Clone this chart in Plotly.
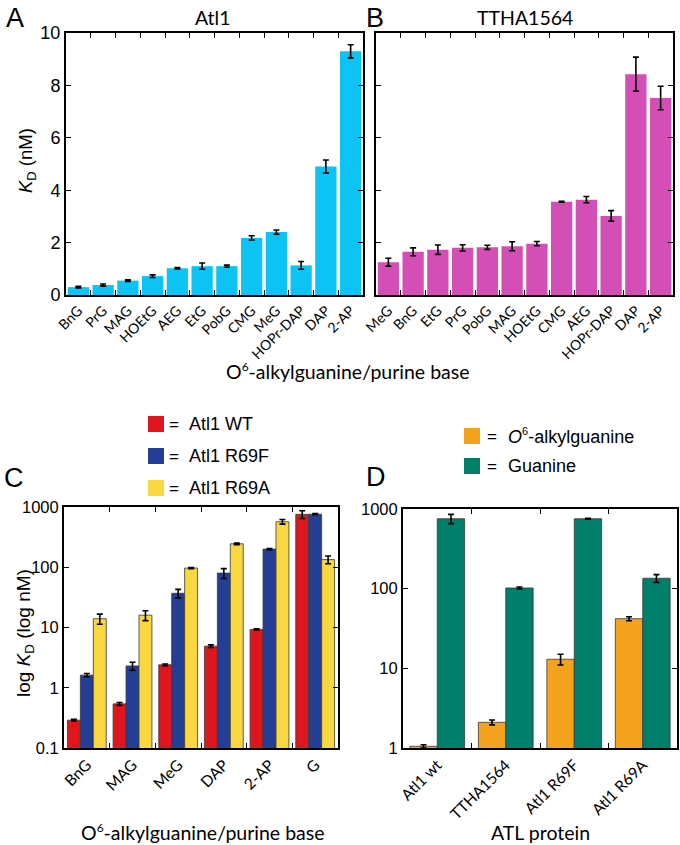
import plotly.graph_objects as go

W, H = 680, 845

# ---------------- data ----------------
a_cats = ["BnG", "PrG", "MAG", "HOEtG", "AEG", "EtG", "PobG", "CMG", "MeG", "HOPr-DAP", "DAP", "2-AP"]
a_vals = [0.30, 0.38, 0.55, 0.72, 1.02, 1.10, 1.10, 2.18, 2.40, 1.13, 4.90, 9.30]
a_errs = [0.03, 0.04, 0.03, 0.05, 0.03, 0.12, 0.04, 0.08, 0.08, 0.15, 0.25, 0.25]

b_cats = ["MeG", "BnG", "EtG", "PrG", "PobG", "MAG", "HOEtG", "CMG", "AEG", "HOPr-DAP", "DAP", "2-AP"]
b_vals = [1.25, 1.65, 1.73, 1.80, 1.82, 1.86, 1.96, 3.56, 3.64, 3.02, 8.43, 7.52]
b_errs = [0.15, 0.15, 0.18, 0.12, 0.08, 0.17, 0.08, 0.02, 0.12, 0.20, 0.65, 0.45]

c_cats = ["BnG", "MAG", "MeG", "DAP", "2-AP", "G"]
c_series = ["Atl1 WT", "Atl1 R69F", "Atl1 R69A"]
c_wt = [0.29, 0.54, 2.4, 4.9, 9.3, 755]
c_wt_err = [0.01, 0.03, 0.08, 0.25, 0.2, 110]
c_r69f = [1.62, 2.3, 37, 80, 200, 760]
c_r69f_err = [0.1, 0.35, 6, 15, 4, 15]
c_r69a = [14, 16, 97, 245, 570, 134]
c_r69a_err = [2.7, 3, 2, 8, 50, 20]

d_cats = ["Atl1 wt", "TTHA1564", "Atl1 R69F", "Atl1 R69A"]
d_series = ["<i>O</i><sup><span style='font-size:11px'>6</span></sup>-alkylguanine", "Guanine"]
d_alkyl = [1.05, 2.1, 13, 42]
d_alkyl_err = [0.05, 0.15, 2, 2.5]
d_gua = [755, 102, 755, 135]
d_gua_err = [100, 3, 12, 15]

x_title_cd = ["O<sup><span style='font-size:12px'>6</span></sup>-alkylguanine/purine base", "ATL protein"]

# ---------------- styling ----------------
CYAN = "#0CC3F3"
MAGENTA = "#D34FB5"
RED = "#E0161E"
BLUE = "#243E96"
YELLOW = "#F9D740"
ORANGE = "#F5A21E"
GREEN = "#007F6B"
c_colors = [RED, BLUE, YELLOW]
d_colors = [ORANGE, GREEN]

NUMFONT = "Liberation Sans, Arial, sans-serif"
CATFONT = "Lato, Open Sans, sans-serif"


def px(x):
    return x / W


def py(y):
    return 1 - y / H


def err(vals):
    return dict(type="data", array=vals, visible=True, color="black", thickness=1.6, width=3)


fig = go.Figure()

# Panel A
fig.add_trace(go.Bar(x=a_cats, y=a_vals, error_y=err(a_errs), marker=dict(color=CYAN, line=dict(width=0)),
                     width=0.86, xaxis="x", yaxis="y", showlegend=False))
# Panel B
fig.add_trace(go.Bar(x=b_cats, y=b_vals, error_y=err(b_errs), marker=dict(color=MAGENTA, line=dict(width=0)),
                     width=0.86, xaxis="x2", yaxis="y2", showlegend=False))
# Panel C
c_data = [(c_wt, c_wt_err), (c_r69f, c_r69f_err), (c_r69a, c_r69a_err)]
cw = 0.85 / 3
for i, (vals, errs) in enumerate(c_data):
    fig.add_trace(go.Bar(x=c_cats, y=vals, error_y=err(errs), name=c_series[i],
                         marker=dict(color=c_colors[i], line=dict(color="#3a3a3a", width=0.8)),
                         width=cw, offset=-0.425 + i * cw, xaxis="x3", yaxis="y3", showlegend=False))
# Panel D
dw = 0.4
for i, (vals, errs) in enumerate([(d_alkyl, d_alkyl_err), (d_gua, d_gua_err)]):
    fig.add_trace(go.Bar(x=d_cats, y=vals, error_y=err(errs), name=d_series[i],
                         marker=dict(color=d_colors[i], line=dict(color="#3a3a3a", width=0.8)),
                         width=dw, offset=-0.4 + i * dw, xaxis="x4", yaxis="y4", showlegend=False))

axis_common = dict(showline=True, linecolor="black", linewidth=2, mirror="ticks",
                   ticks="inside", ticklen=5, tickcolor="black", tickwidth=1.2,
                   showgrid=False, zeroline=False, automargin=False)

xcat_ab = dict(axis_common, type="category", tickson="boundaries", tickangle=-45,
               tickfont=dict(family=CATFONT, size=14, color="black"))
xcat_cd = dict(axis_common, type="category", tickson="boundaries", tickangle=-45,
               tickfont=dict(family=CATFONT, size=15.5, color="black"))

fig.update_layout(
    width=W, height=H, margin=dict(l=0, r=0, t=0, b=0, pad=0, autoexpand=False),
    autosize=False,
    paper_bgcolor="white", plot_bgcolor="white",
    barmode="overlay", showlegend=False,
    xaxis=dict(xcat_ab, domain=[px(66), px(363)], anchor="y", range=[-0.5, 11.5]),
    yaxis=dict(axis_common, domain=[py(295), py(33)], anchor="x", range=[0, 10], dtick=2,
               tickfont=dict(family=NUMFONT, size=18, color="black")),
    xaxis2=dict(xcat_ab, domain=[px(376), px(673)], anchor="y2", range=[-0.5, 11.5]),
    yaxis2=dict(axis_common, domain=[py(295), py(33)], anchor="x2", range=[0, 10], dtick=2,
                showticklabels=False),
    xaxis3=dict(xcat_cd, domain=[px(64), px(338)], anchor="y3", range=[-0.5, 5.5]),
    yaxis3=dict(axis_common, type="log", domain=[py(748), py(507)], anchor="x3", range=[-1, 3],
                tickvals=[0.1, 1, 10, 100, 1000], ticktext=["0.1", "1", "10", "100", "1000"],
                tickfont=dict(family=NUMFONT, size=16.5, color="black")),
    xaxis4=dict(xcat_cd, domain=[px(403), px(677)], anchor="y4", range=[-0.5, 3.5]),
    yaxis4=dict(axis_common, type="log", domain=[py(748), py(509)], anchor="x4", range=[0, 3],
                tickvals=[1, 10, 100, 1000], ticktext=["1", "10", "100", "1000"],
                tickfont=dict(family=NUMFONT, size=16.5, color="black")),
)

ann = []


def text(x, y, s, size, family=NUMFONT, angle=0, xanchor="center"):
    ann.append(dict(x=px(x), y=py(y), xref="paper", yref="paper", text=s, showarrow=False,
                    font=dict(family=family, size=size, color="black"), textangle=angle,
                    xanchor=xanchor, yanchor="middle"))


# panel letters
text(15, 18, "A", 27)
text(375, 18, "B", 27)
text(14, 478, "C", 27)
text(376, 477, "D", 27)
# titles
text(213, 18, "Atl1", 19.5, CATFONT)
text(525, 18, "TTHA1564", 19.5, CATFONT)
# axis titles
text(27, 161, "<i>K</i><sub>D</sub> (nM)", 18.5, NUMFONT, -90)
text(25, 633, "log <i>K</i><sub>D</sub> (log nM)", 19, NUMFONT, -90)
text(348, 371, x_title_cd[0], 19.5, CATFONT)
text(203, 832, x_title_cd[0], 19.5, CATFONT)
text(540, 832, x_title_cd[1], 19.5, CATFONT)

shapes = []
# legend C
for i, name in enumerate(c_series):
    yc = 424 + i * 32
    shapes.append(dict(type="rect", xref="paper", yref="paper", x0=px(148), x1=px(164),
                       y0=py(yc + 8), y1=py(yc - 8), fillcolor=c_colors[i], line=dict(width=0)))
    text(174, yc, "=", 17, NUMFONT)
    text(187, yc, name, 18, NUMFONT, xanchor="left")
# legend D
for i, name in enumerate(d_series):
    yc = 436 + i * 30
    shapes.append(dict(type="rect", xref="paper", yref="paper", x0=px(464), x1=px(480),
                       y0=py(yc + 8), y1=py(yc - 8), fillcolor=d_colors[i], line=dict(width=0)))
    text(492, yc, "=", 17, NUMFONT)
    text(506, yc, name, 18, NUMFONT, xanchor="left")

fig.update_layout(annotations=ann, shapes=shapes)

fig.write_html("out.html", config={"responsive": False, "displayModeBar": False},
               post_script="document.body.style.margin='0px';document.body.style.padding='0px';"
                           "document.documentElement.style.overflow='hidden';")
